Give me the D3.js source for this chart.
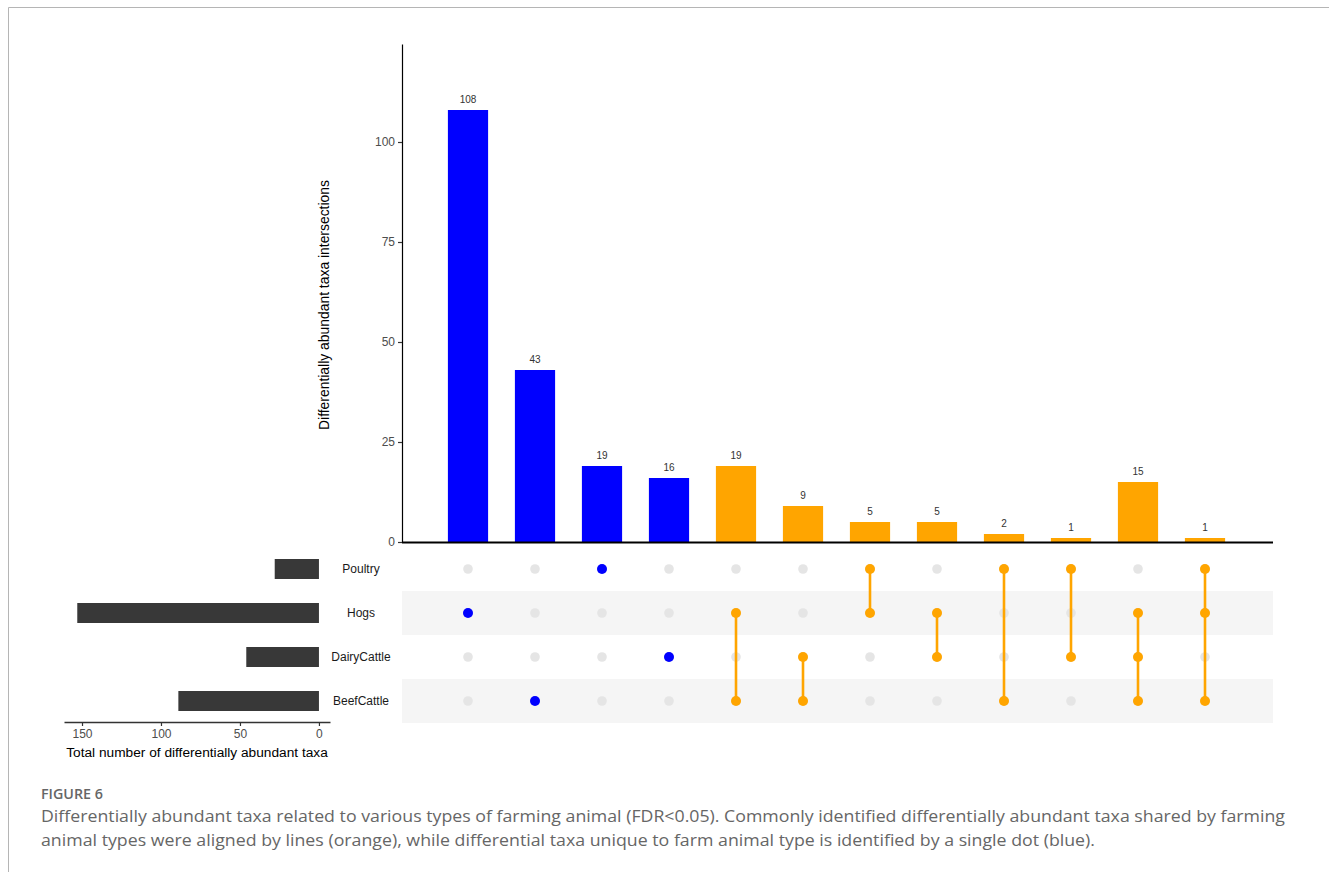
<!DOCTYPE html>
<html>
<head>
<meta charset="utf-8">
<script src="https://cdn.jsdelivr.net/npm/d3@7"></script>
<style>
  body { margin: 0; background: #fff; }
  svg { display: block; }
  svg text { font-family: "Liberation Sans", Arial, sans-serif; }
  svg text.caption { font-family: "Open Sans", sans-serif; }
</style>
</head>
<body>
<svg id="chart" width="1329" height="872"></svg>
<script>
// sets (rows of the matrix) and their totals
const sets = ["Poultry", "Hogs", "DairyCattle", "BeefCattle"];
const setSizes = [28, 153, 46, 89];

// intersections, left to right
const counts = [108, 43, 19, 16, 19, 9, 5, 5, 2, 1, 15, 1];
const members = [
    ["Hogs"], ["BeefCattle"], ["Poultry"], ["DairyCattle"],
    ["Hogs", "BeefCattle"], ["DairyCattle", "BeefCattle"],
    ["Poultry", "Hogs"], ["Hogs", "DairyCattle"],
    ["Poultry", "BeefCattle"], ["Poultry", "DairyCattle"],
    ["Hogs", "DairyCattle", "BeefCattle"], ["Poultry", "Hogs", "BeefCattle"]
];
const yTicks = [0, 25, 50, 75, 100];
const setTicks = [0, 50, 100, 150];

const blue = "#0000ff", orange = "#ffa500", grey = "#e5e5e5";

const svg = d3.select("#chart");

// page frame
svg.append("path")
    .attr("d", "M8.5,872 V7.5 H1329")
    .attr("fill", "none")
    .attr("stroke", "#b5b5b5")
    .attr("stroke-width", 1);

const idx = counts.map((d, i) => i);
const x = d3.scaleBand().domain(idx).range([434.5, 1238.5])
    .paddingInner(0.4).paddingOuter(0.2);
const y = d3.scaleLinear().domain([0, 124.5]).range([542, 44]);
const row = d3.scaleBand().domain(sets).range([547, 723]);
const sx = d3.scaleLinear().domain([-7, 161.4]).range([330, 64]);

const colour = i => members[i].length === 1 ? blue : orange;

// Step 1: intersection bars
svg.selectAll(".bar")
    .data(idx)
    .enter()
    .append("rect")
    .attr("class", "bar")
    .attr("x", i => x(i))
    .attr("width", x.bandwidth())
    .attr("y", i => y(counts[i]))
    .attr("height", i => y(0) - y(counts[i]))
    .attr("fill", i => colour(i));

svg.selectAll(".bar-label")
    .data(idx)
    .enter()
    .append("text")
    .attr("class", "bar-label")
    .attr("x", i => x(i) + x.bandwidth() / 2)
    .attr("y", i => y(counts[i]) - 7)
    .attr("text-anchor", "middle")
    .style("font-size", "10px")
    .style("fill", "#333")
    .text(i => counts[i]);

// y axis
const yAxis = svg.append("g")
    .attr("transform", "translate(402,0)")
    .call(d3.axisLeft(y).tickValues(yTicks).tickSize(4).tickSizeOuter(0));
yAxis.attr("font-family", null);
yAxis.select(".domain").attr("stroke", "#000").attr("stroke-width", 1.2);
yAxis.selectAll(".tick line").attr("stroke", "#333").attr("stroke-width", 1.2);
yAxis.selectAll(".tick text")
    .attr("x", -7)
    .style("font-size", "12px")
    .style("fill", "#4d4d4d");

svg.append("line")
    .attr("x1", 402).attr("x2", 1273)
    .attr("y1", 542.5).attr("y2", 542.5)
    .attr("stroke", "#000")
    .attr("stroke-width", 2);

svg.append("text")
    .attr("transform", "translate(329,305) rotate(-90)")
    .attr("text-anchor", "middle")
    .style("font-size", "13.9px")
    .style("fill", "#000")
    .text("Differentially abundant taxa intersections");

// Step 2: matrix stripes
svg.selectAll(".stripe")
    .data(sets.filter((s, i) => i % 2 === 1))
    .enter()
    .append("rect")
    .attr("class", "stripe")
    .attr("x", 402)
    .attr("width", 871)
    .attr("y", s => row(s))
    .attr("height", row.bandwidth())
    .attr("fill", "#f5f5f5");

const cy = s => row(s) + row.bandwidth() / 2;
const cx = i => x(i) + x.bandwidth() / 2;

// empty dots
const cells = [];
idx.forEach(i => sets.forEach(s => cells.push({ i, s, on: members[i].includes(s) })));

svg.selectAll(".empty")
    .data(cells)
    .enter()
    .append("circle")
    .attr("class", "empty")
    .attr("cx", d => cx(d.i))
    .attr("cy", d => cy(d.s))
    .attr("r", 4.8)
    .attr("fill", grey);

// connecting lines
svg.selectAll(".link")
    .data(idx.filter(i => members[i].length > 1))
    .enter()
    .append("line")
    .attr("class", "link")
    .attr("x1", cx).attr("x2", cx)
    .attr("y1", i => d3.min(members[i], cy))
    .attr("y2", i => d3.max(members[i], cy))
    .attr("stroke", orange)
    .attr("stroke-width", 2.6);

svg.selectAll(".dot")
    .data(cells.filter(d => d.on))
    .enter()
    .append("circle")
    .attr("class", "dot")
    .attr("cx", d => cx(d.i))
    .attr("cy", d => cy(d.s))
    .attr("r", 5)
    .attr("fill", d => colour(d.i));

// Step 3: set size bars
svg.selectAll(".set-bar")
    .data(sets)
    .enter()
    .append("rect")
    .attr("class", "set-bar")
    .attr("x", (s, i) => sx(setSizes[i]))
    .attr("width", (s, i) => sx(0) - sx(setSizes[i]))
    .attr("y", s => cy(s) - 10)
    .attr("height", 20)
    .attr("fill", "#383838");

svg.selectAll(".set-label")
    .data(sets)
    .enter()
    .append("text")
    .attr("class", "set-label")
    .attr("x", 361)
    .attr("y", s => cy(s) + 4)
    .attr("text-anchor", "middle")
    .style("font-size", "12px")
    .style("fill", "#1a1a1a")
    .text(s => s);

const sAxis = svg.append("g")
    .attr("transform", "translate(0,722)")
    .call(d3.axisBottom(sx).tickValues(setTicks).tickSize(4).tickSizeOuter(0));
sAxis.attr("font-family", null);
sAxis.select(".domain").attr("stroke", "#333").attr("stroke-width", 1.5);
sAxis.selectAll(".tick line").attr("stroke", "#333").attr("stroke-width", 1.2);
sAxis.selectAll(".tick text")
    .style("font-size", "12px")
    .style("fill", "#4d4d4d");

svg.append("text")
    .attr("x", 197)
    .attr("y", 757)
    .attr("text-anchor", "middle")
    .style("font-size", "13.7px")
    .style("fill", "#000")
    .text("Total number of differentially abundant taxa");

// caption
svg.append("text")
    .attr("class", "caption")
    .attr("x", 41).attr("y", 799)
    .attr("textLength", 62)
    .attr("lengthAdjust", "spacingAndGlyphs")
    .style("font-size", "13.5px")
    .style("font-weight", 600)
    .style("fill", "#666")
    .text("FIGURE 6");

svg.append("text")
    .attr("class", "caption")
    .attr("x", 41).attr("y", 822)
    .attr("textLength", 1244)
    .attr("lengthAdjust", "spacingAndGlyphs")
    .style("font-size", "17px")
    .style("fill", "#666")
    .text("Differentially abundant taxa related to various types of farming animal (FDR<0.05). Commonly identified differentially abundant taxa shared by farming");

svg.append("text")
    .attr("class", "caption")
    .attr("x", 41).attr("y", 846)
    .attr("textLength", 1054)
    .attr("lengthAdjust", "spacingAndGlyphs")
    .style("font-size", "17px")
    .style("fill", "#666")
    .text("animal types were aligned by lines (orange), while differential taxa unique to farm animal type is identified by a single dot (blue).");
</script>
</body>
</html>
